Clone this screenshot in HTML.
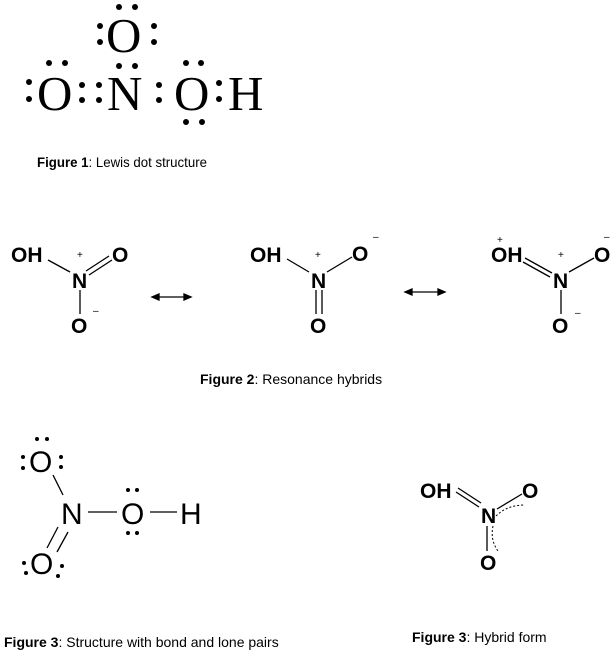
<!DOCTYPE html>
<html><head><meta charset="utf-8"><style>
html,body{margin:0;padding:0;background:#fff;width:615px;height:656px;overflow:hidden}
svg{display:block}
.s{font-family:"Liberation Serif",serif;font-size:49px;fill:#000}
.b{font-family:"Liberation Sans",sans-serif;font-weight:bold;font-size:21px;fill:#000}
.r{font-family:"Liberation Sans",sans-serif;font-size:30px;fill:#000}
.c{font-family:"Liberation Sans",sans-serif;font-size:14px;fill:#000}
.ch{font-family:"Liberation Sans",sans-serif;font-size:10px;fill:#000}
line{stroke:#000;stroke-width:1.3}
</style></head><body>
<svg width="615" height="656" viewBox="0 0 615 656">
<!-- Figure 1 -->
<g class="s">
<text x="106" y="52">O</text>
<text x="37" y="110">O</text>
<text x="107" y="110">N</text>
<text x="174" y="110">O</text>
<text x="228" y="110">H</text>
</g>
<g fill="#000">
<circle cx="119" cy="7" r="3"/><circle cx="135" cy="7" r="3"/>
<circle cx="100" cy="26" r="3"/><circle cx="100" cy="42" r="3"/>
<circle cx="154" cy="26" r="3"/><circle cx="154" cy="42" r="3"/>
<circle cx="119" cy="66" r="3"/><circle cx="135" cy="66" r="3"/>
<circle cx="49" cy="63" r="3"/><circle cx="65" cy="63" r="3"/>
<circle cx="29" cy="82" r="3"/><circle cx="29" cy="99" r="3"/>
<circle cx="82" cy="85" r="3"/><circle cx="82" cy="100" r="3"/>
<circle cx="99" cy="85" r="3"/><circle cx="99" cy="100" r="3"/>
<circle cx="159" cy="85" r="3"/><circle cx="159" cy="100" r="3"/>
<circle cx="186" cy="63" r="3"/><circle cx="201" cy="63" r="3"/>
<circle cx="186" cy="122" r="3"/><circle cx="202" cy="122" r="3"/>
<circle cx="219" cy="83" r="3"/><circle cx="219" cy="99" r="3"/>
</g>
<text class="c" x="37" y="167" textLength="170" lengthAdjust="spacingAndGlyphs"><tspan font-weight="bold">Figure 1</tspan>: Lewis dot structure</text>

<!-- Figure 2 -->
<g class="b">
<text x="11" y="262">OH</text>
<text x="112" y="262">O</text>
<text x="72" y="288">N</text>
<text x="71" y="333">O</text>
<text x="250" y="262">OH</text>
<text x="352" y="261">O</text>
<text x="311" y="288">N</text>
<text x="310" y="333">O</text>
<text x="491" y="262">OH</text>
<text x="594" y="262">O</text>
<text x="553" y="288">N</text>
<text x="552" y="333">O</text>
</g>
<g class="ch">
<text x="77" y="258">+</text>
<text x="93" y="314">–</text>
<text x="315" y="258">+</text>
<text x="373" y="240">–</text>
<text x="497" y="243">+</text>
<text x="558" y="258">+</text>
<text x="604" y="240">–</text>
<text x="575" y="316">–</text>
</g>
<line x1="48" y1="260" x2="70" y2="272"/>
<line x1="86" y1="271" x2="109" y2="256"/><line x1="89" y1="275" x2="112" y2="260"/>
<line x1="80" y1="290" x2="80" y2="314"/>
<line x1="287" y1="259" x2="309" y2="272"/>
<line x1="327" y1="272" x2="352" y2="257"/>
<line x1="316" y1="290" x2="316" y2="314"/><line x1="322" y1="290" x2="322" y2="314"/>
<line x1="525" y1="258" x2="552" y2="273"/><line x1="523" y1="262" x2="550" y2="277"/>
<line x1="569" y1="272" x2="594" y2="258"/>
<line x1="561" y1="290" x2="561" y2="314"/>
<g stroke="#000" stroke-width="1.3" fill="#000">
<line x1="156" y1="297" x2="187" y2="297"/>
<path d="M152 297 L159 294 L159 300Z"/><path d="M191 297 L184 294 L184 300Z"/>
<line x1="409" y1="292" x2="441" y2="292"/>
<path d="M405 292 L412 289 L412 295Z"/><path d="M445 292 L438 289 L438 295Z"/>
</g>
<text class="c" x="200" y="384"><tspan font-weight="bold">Figure 2</tspan>: Resonance hybrids</text>

<!-- Figure 3 left -->
<g class="r">
<text x="29" y="472">O</text>
<text x="61" y="524">N</text>
<text x="121" y="524">O</text>
<text x="180" y="524">H</text>
<text x="30" y="574">O</text>
</g>
<g fill="#000">
<circle cx="37" cy="439" r="2"/><circle cx="47" cy="439" r="2"/>
<circle cx="23" cy="457" r="2"/><circle cx="23" cy="468" r="2"/>
<circle cx="61" cy="457" r="2"/><circle cx="61" cy="467" r="2"/>
<circle cx="128" cy="490" r="2"/><circle cx="137" cy="490" r="2"/>
<circle cx="128" cy="533" r="2"/><circle cx="137" cy="533" r="2"/>
<circle cx="24" cy="563" r="2"/><circle cx="26" cy="573" r="2"/>
<circle cx="62" cy="566" r="2"/><circle cx="58" cy="576" r="2"/>
</g>
<line x1="53" y1="475" x2="63" y2="495"/>
<line x1="88" y1="512" x2="117" y2="512"/>
<line x1="150" y1="512" x2="177" y2="512"/>
<line x1="58" y1="527" x2="47" y2="548"/><line x1="68" y1="532" x2="57" y2="552"/>
<text class="c" x="4" y="647"><tspan font-weight="bold">Figure 3</tspan>: Structure with bond and lone pairs</text>

<!-- Figure 3 right -->
<g class="b">
<text x="420" y="498">OH</text>
<text x="522" y="498">O</text>
<text x="481" y="523">N</text>
<text x="480" y="570">O</text>
</g>
<line x1="458" y1="488" x2="481" y2="503"/><line x1="456" y1="492" x2="479" y2="507"/>
<line x1="497" y1="509" x2="522" y2="494"/>
<line x1="487" y1="526" x2="487" y2="551"/>
<path d="M496 516 Q507 505 525 505" stroke="#000" stroke-width="1" stroke-dasharray="2,2" fill="none"/>
<path d="M493 526 Q490 540 498 551" stroke="#000" stroke-width="1" stroke-dasharray="2,2" fill="none"/>
<text class="c" x="412" y="642"><tspan font-weight="bold">Figure 3</tspan>: Hybrid form</text>
</svg>
</body></html>
